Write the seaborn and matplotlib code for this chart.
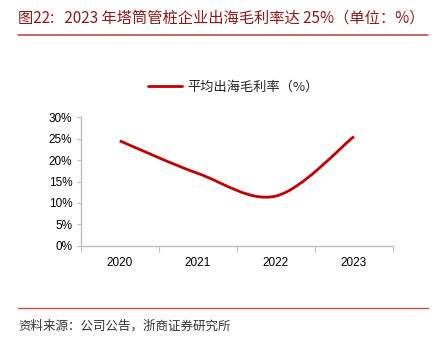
import numpy as np
import pandas as pd
import seaborn as sns
import matplotlib
matplotlib.use("Agg")
import matplotlib.pyplot as plt
from matplotlib.path import Path
from matplotlib.patches import PathPatch
from matplotlib.lines import Line2D
from matplotlib.ticker import FuncFormatter, MultipleLocator

years = ["2020", "2021", "2022", "2023"]
margin = [24.5, 16.9, 11.6, 25.5]
series_name = "平均出海毛利率（%）"
title = "图22:   2023 年塔筒管桩企业出海毛利率达 25%（单位：%）"
source = "资料来源：公司公告，浙商证券研究所"

sns.set_theme(style="white")
plt.rcParams['font.family'] = ['Liberation Sans', 'Noto Sans CJK SC', 'DejaVu Sans']

W, H = 435, 339
fig = plt.figure(figsize=(W / 100, H / 100), dpi=100)
ax = fig.add_axes([80.7 / W, 1 - 245.7 / H, (393 - 80.7) / W, (245.7 - 117.3) / H])

df = pd.DataFrame({"idx": np.arange(len(years)), "val": margin})
sns.lineplot(data=df, x="idx", y="val", ax=ax, color="#C00000", linewidth=0, legend=False)

# smooth curve (Excel-style) through data points as cubic Bezier in data coords
pts = np.column_stack([df["idx"].values, df["val"].values]).astype(float)
n = len(pts)
verts = [tuple(pts[0])]
codes = [Path.MOVETO]
for i in range(n - 1):
    p0 = pts[i - 1] if i > 0 else pts[i]
    p1 = pts[i]
    p2 = pts[i + 1]
    p3 = pts[i + 2] if i + 2 < n else pts[i + 1]
    c1 = p1 + (p2 - p0) / 6.0
    c2 = p2 - (p3 - p1) / 6.0
    verts += [tuple(c1), tuple(c2), tuple(p2)]
    codes += [Path.CURVE4] * 3
ax.add_patch(PathPatch(Path(verts, codes), facecolor="none", edgecolor="#C00000",
                       linewidth=2.0, capstyle="butt", joinstyle="round"))

ax.set_xlim(-0.5, len(years) - 0.5)
ax.set_ylim(0, 30)
ax.yaxis.set_major_locator(MultipleLocator(5))
ax.yaxis.set_major_formatter(FuncFormatter(lambda v, p: f"{v:.0f}%"))
ax.set_xticks(np.arange(len(years)))
ax.set_xticklabels(years)
ax.set_xticks(np.arange(-0.5, len(years), 1.0), minor=True)
ax.tick_params(axis="x", which="major", length=0, pad=8, labelsize=8.5, colors="#000000")
ax.tick_params(axis="x", which="minor", length=4, width=0.8, color="#BFBFBF", direction="out", bottom=True)
ax.tick_params(axis="y", which="major", length=3, width=0.8, color="#BFBFBF", direction="out",
               left=True, labelsize=8.5, pad=3, colors="#000000")
ax.set_xlabel("")
ax.set_ylabel("")
for s in ["top", "right"]:
    ax.spines[s].set_visible(False)
for s in ["left", "bottom"]:
    ax.spines[s].set_color("#BFBFBF")
    ax.spines[s].set_linewidth(1.0)
ax.grid(False)

handle = Line2D([0], [0], color="#C00000", linewidth=2.0)
fig.legend([handle], [series_name], loc="center left", bbox_to_anchor=(136 / W, 1 - 87 / H),
           frameon=False, handlelength=2.6, handletextpad=0.4,
           prop={"family": ["Noto Sans CJK SC", "DejaVu Sans"], "size": 9.5})

fig.text(18 / W, 1 - 18 / H, title, fontsize=11, color="#8B1A1A", va="center", ha="left",
         family=["Noto Sans CJK SC", "DejaVu Sans"])
fig.add_artist(Line2D([18 / W, 428 / W], [1 - 35 / H, 1 - 35 / H], color="#C0504D", linewidth=1.2))
fig.add_artist(Line2D([18 / W, 428 / W], [1 - 308 / H, 1 - 308 / H], color="#C0504D", linewidth=1.0))
fig.text(18 / W, 1 - 326 / H, source, fontsize=9, color="#333333", va="center", ha="left",
         family=["Noto Sans CJK SC", "DejaVu Sans"])

fig.savefig("out.png", dpi=100, facecolor="white")
